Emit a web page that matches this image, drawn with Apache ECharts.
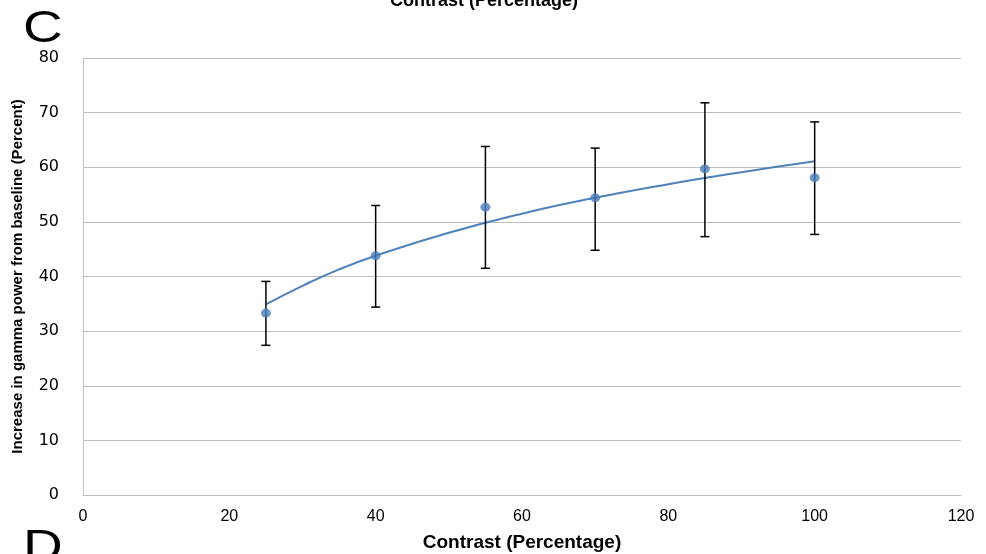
<!DOCTYPE html>
<html>
<head>
<meta charset="utf-8">
<script src="https://cdn.jsdelivr.net/npm/echarts@6/dist/echarts.min.js"></script>
<style>
  html, body { margin: 0; padding: 0; background: #ffffff; }
  #chart { width: 986px; height: 554px; }
</style>
</head>
<body>
<div id="chart"></div>
<script>
// Contrast levels (percent) and mean gamma power increase with error bounds
const contrast = [25, 40, 55, 70, 85, 100];
const meanIncrease = [33.3, 43.8, 52.7, 54.4, 59.7, 58.1];
const errUpper = [39.1, 53.0, 63.8, 63.5, 71.8, 68.3];
const errLower = [27.4, 34.4, 41.5, 44.8, 47.3, 47.7];

// Fitted trend curve, sampled along the contrast range
const trendX = [25, 30, 35, 40, 50, 60, 70, 80, 90, 100];
const trendY = [34.9, 38.3, 41.3, 43.8, 48.0, 51.5, 54.4, 56.9, 59.1, 61.1];

// Axis ticks
const xTicks = [0, 20, 40, 60, 80, 100, 120];
const yTicks = [0, 10, 20, 30, 40, 50, 60, 70, 80];

const chart = echarts.init(document.getElementById('chart'));

const pointData = contrast.map((c, i) => [c, meanIncrease[i]]);
const errData = contrast.map((c, i) => [c, errLower[i], errUpper[i]]);
const trendData = trendX.map((x, i) => [x, trendY[i]]);

const panelFont = '44px "Liberation Sans", Arial, sans-serif';

const option = {
  animation: false,
  backgroundColor: '#ffffff',
  graphic: [
    {
      type: 'text', x: 23, y: 30, scaleX: 1.25,
      style: { text: 'C', font: panelFont, fill: '#000', align: 'left', verticalAlign: 'middle' }
    },
    {
      type: 'text', x: 23, y: 549, scaleX: 1.25,
      style: { text: 'D', font: panelFont, fill: '#000', align: 'left', verticalAlign: 'middle' }
    },
    {
      type: 'text', left: 390, top: -8,
      style: { text: 'Contrast (Percentage)', font: 'bold 18px "Liberation Sans", Arial, sans-serif', fill: '#000' }
    }
  ],
  grid: {
    left: 83, right: 25, top: 58, bottom: 59,
    containLabel: false,
    outerBoundsMode: 'none'
  },
  xAxis: {
    type: 'value',
    min: xTicks[0],
    max: xTicks[xTicks.length - 1],
    interval: 20,
    name: 'Contrast (Percentage)',
    nameLocation: 'middle',
    nameGap: 38,
    nameTextStyle: { fontFamily: 'Liberation Sans', fontWeight: 'bold', fontSize: 19, color: '#000' },
    axisLine: { lineStyle: { color: '#bfbfbf', width: 1 } },
    axisTick: { show: false },
    splitLine: { show: false },
    axisLabel: { fontFamily: 'Liberation Sans', fontSize: 16, color: '#000', margin: 14 }
  },
  yAxis: {
    type: 'value',
    min: yTicks[0],
    max: yTicks[yTicks.length - 1],
    interval: 10,
    name: 'Increase in gamma power from baseline (Percent)',
    nameLocation: 'middle',
    nameGap: 58,
    nameTextStyle: { fontFamily: 'Liberation Sans', fontWeight: 'bold', fontSize: 15, color: '#000' },
    axisLine: { show: true, lineStyle: { color: '#bfbfbf', width: 1 } },
    axisTick: { show: false },
    splitLine: { lineStyle: { color: '#bfbfbf', width: 1 } },
    axisLabel: { fontFamily: 'DejaVu Sans', fontSize: 16, color: '#000', margin: 24 }
  },
  series: [
    {
      type: 'line',
      data: trendData,
      smooth: true,
      symbol: 'none',
      lineStyle: { color: '#4f81bd', width: 2 },
      z: 2
    },
    {
      type: 'custom',
      data: errData,
      renderItem: function (params, api) {
        const x = api.value(0);
        const lo = api.coord([x, api.value(1)]);
        const hi = api.coord([x, api.value(2)]);
        const cap = 4.5;
        const style = { stroke: '#000', lineWidth: 1.5 };
        return {
          type: 'group',
          children: [
            { type: 'line', shape: { x1: lo[0], y1: lo[1], x2: hi[0], y2: hi[1] }, style: style },
            { type: 'line', shape: { x1: hi[0] - cap, y1: hi[1], x2: hi[0] + cap, y2: hi[1] }, style: style },
            { type: 'line', shape: { x1: lo[0] - cap, y1: lo[1], x2: lo[0] + cap, y2: lo[1] }, style: style }
          ]
        };
      },
      z: 3
    },
    {
      type: 'scatter',
      data: pointData,
      symbol: 'circle',
      symbolSize: [10, 9],
      itemStyle: { color: '#4a7ebb' },
      z: 4
    }
  ]
};

chart.setOption(option);
</script>
</body>
</html>
